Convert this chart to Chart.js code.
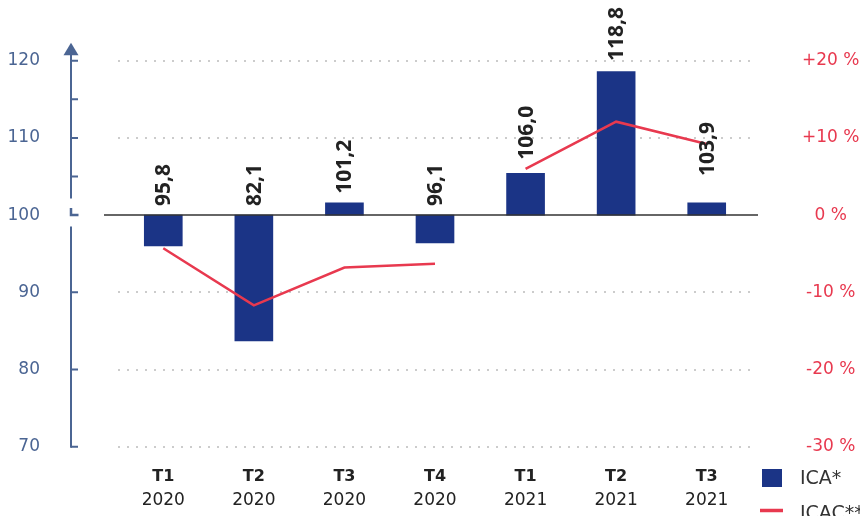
<!DOCTYPE html>
<html><head><meta charset="utf-8">
<script src="https://cdn.jsdelivr.net/npm/chart.js@4"></script>
<style>html,body{margin:0;padding:0;background:#fff;overflow:hidden}canvas{display:block}</style>
</head><body>
<canvas id="c" width="860" height="516"></canvas>
<script>
// ---- data ----
const quarters = ['T1','T2','T3','T4','T1','T2','T3'];
const years = ['2020','2020','2020','2020','2021','2021','2021'];
const icaValues = [96.0, 83.7, 101.6, 96.4, 105.4, 118.6, 101.6];
const icaLabels = ['95,8','82,1','101,2','96,1','106,0','118,8','103,9'];
const icacValues = [-4.3, -11.7, -6.8, -6.3, 6.0, 12.1, 9.2];
const leftTicks = [70, 80, 90, 100, 110, 120];
const leftMinorTicks = [105, 115];
const rightTicks = [-30, -20, -10, 0, 10, 20];
const baseValue = 100;
const seriesNames = ['ICA*', 'ICAC**'];
const gapAfterIndex = 3;

// ---- styles ----
const NAVY = '#1b3486', RED = '#e8394f', AXIS = '#4b6593', TEXT = '#222222';
Chart.defaults.font.family = "'DejaVu Sans', sans-serif";

const decorations = {
  id: 'decorations',
  afterDatasetsDraw(chart) {
    const ctx = chart.ctx, ys = chart.scales.y;
    const p100 = ys.getPixelForValue(baseValue);
    // baseline
    ctx.save();
    ctx.strokeStyle = '#333333'; ctx.lineWidth = 1.5;
    ctx.beginPath(); ctx.moveTo(104, p100); ctx.lineTo(758, p100); ctx.stroke();
    // data labels
    const meta = chart.getDatasetMeta(0);
    ctx.fillStyle = TEXT;
    ctx.font = "bold 21px 'Open Sans', sans-serif";
    ctx.textAlign = 'left'; ctx.textBaseline = 'middle';
    meta.data.forEach((el, i) => {
      const top = Math.min(el.y, el.base);
      const lv = parseFloat(icaLabels[i].replace(',', '.'));
      const anchor = Math.min(top, ys.getPixelForValue(Math.max(lv, baseValue))) - 9;
      ctx.save();
      ctx.translate(el.x + 1, anchor);
      ctx.rotate(-Math.PI / 2);
      ctx.fillText(icaLabels[i], 0, 0);
      ctx.restore();
    });
    ctx.restore();
  },
  afterDraw(chart) {
    const ctx = chart.ctx, ys = chart.scales.y;
    const ax = 71;
    const p100 = ys.getPixelForValue(baseValue);
    const pTop = ys.getPixelForValue(ys.max);
    const pBot = ys.getPixelForValue(ys.min);
    ctx.save();
    ctx.strokeStyle = AXIS; ctx.fillStyle = AXIS; ctx.lineWidth = 2;
    ctx.beginPath();
    ctx.moveTo(ax, pTop - 6); ctx.lineTo(ax, p100 - 16.5);
    ctx.moveTo(ax, p100 + 11.5); ctx.lineTo(ax, pBot + 1);
    ctx.stroke();
    // arrow head
    ctx.beginPath();
    ctx.moveTo(ax, pTop - 18); ctx.lineTo(ax - 7.5, pTop - 5.5); ctx.lineTo(ax + 7.5, pTop - 5.5);
    ctx.closePath(); ctx.fill();
    // ticks
    ctx.beginPath();
    leftTicks.concat(leftMinorTicks).forEach(v => {
      if (v === baseValue) return;
      const y = ys.getPixelForValue(v);
      ctx.moveTo(ax, y); ctx.lineTo(ax + 7, y);
    });
    ctx.stroke();
    // break mark
    ctx.lineWidth = 2.5;
    ctx.beginPath();
    ctx.moveTo(ax, p100 - 7); ctx.lineTo(ax, p100); ctx.lineTo(ax + 7.5, p100);
    ctx.stroke();
    // legend
    ctx.fillStyle = NAVY;
    ctx.fillRect(762, 469, 20, 18);
    ctx.strokeStyle = RED; ctx.lineWidth = 3.5;
    ctx.beginPath(); ctx.moveTo(760, 510.5); ctx.lineTo(783, 510.5); ctx.stroke();
    ctx.fillStyle = '#333333';
    ctx.font = "19px 'DejaVu Sans', sans-serif";
    ctx.textAlign = 'left'; ctx.textBaseline = 'middle';
    ctx.fillText(seriesNames[0], 800, 479);
    ctx.fillText(seriesNames[1], 800, 514);
    ctx.restore();
  }
};

const fixVertical = (w) => (s) => { s.width = w; s.paddingTop = 8; s.paddingBottom = 8; };

new Chart(document.getElementById('c'), {
  data: {
    labels: quarters,
    datasets: [
      { type: 'bar', label: seriesNames[0], data: icaValues.map(v => [baseValue, v]),
        backgroundColor: NAVY, barThickness: 38, yAxisID: 'y', xAxisID: 'x', order: 2 },
      { type: 'line', label: seriesNames[1], data: icacValues, borderColor: RED, borderWidth: 2.5,
        pointRadius: 0, tension: 0, fill: false, yAxisID: 'y2', xAxisID: 'x', order: 1,
        segment: { borderColor: c => c.p0DataIndex === gapAfterIndex ? 'rgba(0,0,0,0)' : RED } }
    ]
  },
  options: {
    responsive: false, animation: false, devicePixelRatio: 1,
    layout: { padding: { top: 60.7, bottom: 6.4, left: 0, right: 0 } },
    plugins: { legend: { display: false }, tooltip: { enabled: false } },
    scales: {
      x: { type: 'category', labels: quarters, position: 'bottom', offset: true,
        grid: { display: false, drawTicks: false }, border: { display: false },
        ticks: { font: { size: 16, weight: 'bold' }, color: TEXT, padding: 20.4, maxRotation: 0, autoSkip: false },
        afterFit: s => { s.height = 39.6; } },
      x2: { type: 'category', labels: years, position: 'bottom', offset: true,
        grid: { display: false, drawTicks: false }, border: { display: false },
        ticks: { font: { size: 17 }, color: TEXT, padding: 4, maxRotation: 0, autoSkip: false },
        afterFit: s => { s.height = 23.3; } },
      y: { type: 'linear', position: 'left', min: 70, max: 120,
        afterBuildTicks: s => { s.ticks = leftTicks.map(v => ({ value: v })); },
        grid: { color: c => (c.tick && c.tick.value === baseValue) ? 'rgba(0,0,0,0)' : '#cccccc', lineWidth: 2, drawTicks: false },
        border: { display: false, dash: [2, 7] },
        ticks: { color: AXIS, font: { size: 17 }, padding: 78 },
        afterFit: fixVertical(118) },
      y2: { type: 'linear', position: 'right', min: -30, max: 20,
        afterBuildTicks: s => { s.ticks = rightTicks.map(v => ({ value: v })); },
        grid: { display: false, drawTicks: false }, border: { display: false },
        ticks: { color: RED, font: { size: 17 }, padding: 50, crossAlign: 'center',
          callback: v => (v > 0 ? '+' : '') + v + ' %' },
        afterFit: fixVertical(108) }
    }
  },
  plugins: [decorations]
});
</script>
</body></html>
